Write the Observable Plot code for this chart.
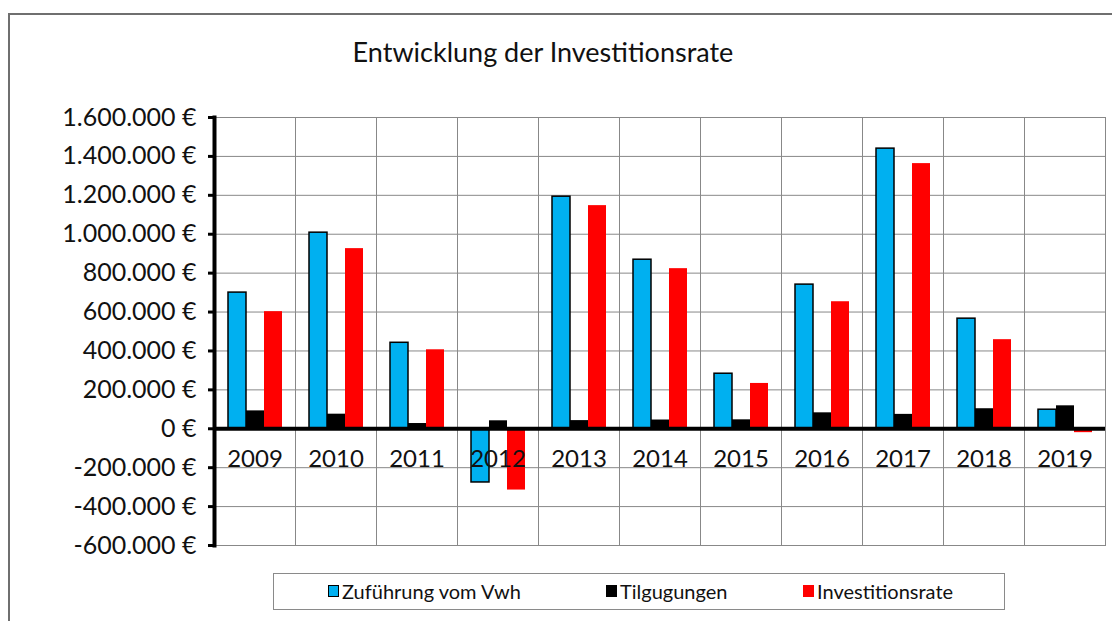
<!DOCTYPE html>
<html><head><meta charset="utf-8">
<script src="https://cdn.jsdelivr.net/npm/d3@7"></script>
<script src="https://cdn.jsdelivr.net/npm/@observablehq/plot@0.6"></script>
<style>
body{margin:0;background:#fff;font-family:Lato,"Open Sans",sans-serif;}
#wrap{position:relative;width:1112px;height:621px;overflow:hidden;}
#border{position:absolute;left:8px;top:13px;width:1200px;height:700px;border:2px solid #6f6f6f;box-sizing:border-box;}
#title{position:absolute;left:0;width:1086px;top:35px;text-align:center;font-size:27px;color:#111;}
#chart{position:absolute;left:0;top:0;}
#legend{position:absolute;left:273px;top:573px;width:732px;height:37px;border:1.5px solid #8a8a8a;box-sizing:border-box;font-size:20px;color:#111;}
.item{position:absolute;top:5px;display:flex;align-items:center;}
.sw{width:11px;height:12px;margin-right:3px;box-sizing:border-box;}
</style></head>
<body>
<div id="wrap">
<div id="border"></div>
<div id="title">Entwicklung der Investitionsrate</div>
<div id="chart"></div>
<div id="legend"></div>
</div>
<script>
const years = ["2009","2010","2011","2012","2013","2014","2015","2016","2017","2018","2019"];
const series = ["Zuführung vom Vwh","Tilgugungen","Investitionsrate"];
const colors = ["#00B0F0","#000000","#FF0000"];
const zufuehrung = [700000,1008000,442000,-276000,1193000,869000,283000,741000,1440000,566000,98000];
const tilgungen = [92000,75000,27000,41000,42000,45000,46000,82000,74000,103000,118000];
const investitionsrate = [602000,926000,406000,-315000,1147000,823000,233000,653000,1363000,458000,-20000];
const yTicks = [-600000,-400000,-200000,0,200000,400000,600000,800000,1000000,1200000,1400000,1600000];

const valuesBySeries = [zufuehrung, tilgungen, investitionsrate];
const rows = [];
years.forEach((y,i)=>series.forEach((s,j)=>rows.push({year:y, series:s, value:valuesBySeries[j][i]})));

const loc = d3.formatLocale({decimal:",", thousands:".", grouping:[3], currency:["","€"], minus:"-"});
const fmt = d => loc.format(",")(d) + " €";

const chart = Plot.plot({
  width:1112, height:560,
  marginTop:117, marginBottom:15, marginLeft:213, marginRight:7,
  style:{fontFamily:"Lato, 'Open Sans', sans-serif", background:"transparent"},
  fx:{domain:years, padding:0, axis:null},
  x:{domain:series, paddingInner:0, paddingOuter:0.7, axis:null},
  y:{domain:[-600000,1600000], axis:null},
  color:{domain:series, range:colors},
  marks:[
    Plot.gridY(yTicks, {stroke:"#888", strokeOpacity:1, strokeWidth:1}),
    Plot.frame({stroke:"#888", strokeWidth:1}),
    Plot.barY(rows.filter(d=>d.series===series[0]), {fx:"year", x:"series", y:"value", fill:"series", stroke:"black", strokeWidth:1.5}),
    Plot.barY(rows.filter(d=>d.series!==series[0]), {fx:"year", x:"series", y:"value", fill:"series"}),
    Plot.ruleY([0], {stroke:"black", strokeWidth:4}),
    Plot.axisY(yTicks, {label:null, tickFormat:fmt, tickSize:6, tickPadding:12, strokeWidth:3, stroke:"black", fontSize:25, fill:"#111"}),
    Plot.frame({anchor:"left", facetAnchor:"left", stroke:"black", strokeWidth:4}),
    Plot.text(years, {fx:d=>d, y:0, text:d=>d, dy:31, fontSize:24, fill:"#111"})
  ]
});
document.getElementById("chart").appendChild(chart);

const legend = document.getElementById("legend");
const lx = [54, 332, 529];
series.forEach((s,i)=>{
  const it = document.createElement("div");
  it.className="item"; it.style.left = lx[i]+"px";
  const sw = document.createElement("div");
  sw.className="sw"; sw.style.background = colors[i];
  if(i===0) sw.style.border="1.5px solid #000";
  const t = document.createElement("span"); t.textContent = s;
  it.appendChild(sw); it.appendChild(t); legend.appendChild(it);
});
</script>
</body></html>
